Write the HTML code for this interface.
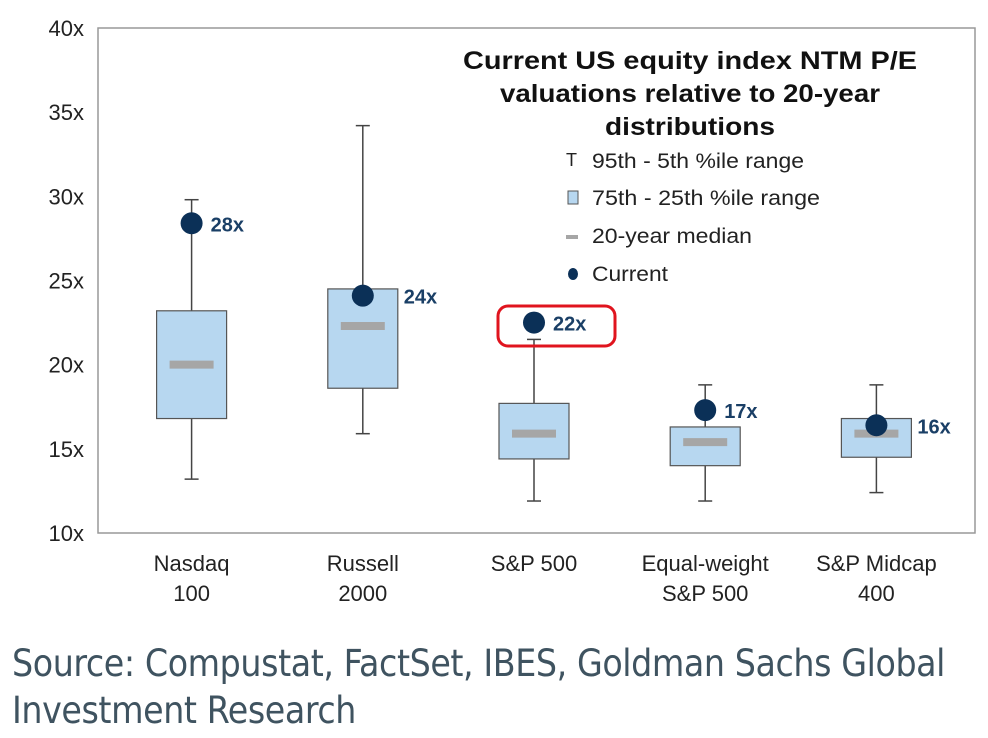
<!DOCTYPE html>
<html><head><meta charset="utf-8"><style>
body{margin:0;background:#fff;width:988px;height:738px;overflow:hidden;font-family:"Liberation Sans",sans-serif}
svg{position:absolute;left:0;top:0}
.src{position:absolute;left:12px;top:640px;font-size:37px;line-height:47px;color:#3f5360;font-family:"DejaVu Sans Condensed","Liberation Sans",sans-serif;letter-spacing:-0.4px}
</style></head><body>
<svg id="chart" width="988" height="738"></svg>
<div class="src">Source: Compustat, FactSet, IBES, Goldman Sachs Global<br>Investment Research</div>
<script>
const categories=[["Nasdaq","100"],["Russell","2000"],["S&P 500",""],["Equal-weight","S&P 500"],["S&P Midcap","400"]];
const p5=[13.2,15.9,11.9,11.9,12.4];
const p95=[29.8,34.2,21.5,18.8,18.8];
const p25=[16.8,18.6,14.4,14.0,14.5];
const p75=[23.2,24.5,17.7,16.3,16.8];
const medians=[20.0,22.3,15.9,15.4,15.9];
const current=[28.4,24.1,22.5,17.3,16.4];
const currentLabels=["28x","24x","22x","17x","16x"];
const yTicks=[10,15,20,25,30,35,40];
const NS="http://www.w3.org/2000/svg";
const svg=document.getElementById('chart');
const L=98,R=975,T=28,B=533;
const BL=106,BR=962;
const y=v=>B-(v-10)/30*(B-T);
const x=i=>BL+(i+0.5)*(BR-BL)/categories.length;
function mk(t,a,p){const e=document.createElementNS(NS,t);for(const k in a)e.setAttribute(k,a[k]);(p||svg).appendChild(e);return e;}
const frame=mk('rect',{x:L,y:T,width:R-L,height:B-T,fill:'none',stroke:'#999','stroke-width':1.5});


yTicks.forEach(v=>{const t=mk('text',{x:84,y:y(v)+8,'text-anchor':'end','font-size':22,fill:'#222'});t.textContent=v+'x';

});
categories.forEach((c,i)=>{
 const cx=x(i);
 const g=mk('g',{});
 
 
 mk('line',{x1:cx,x2:cx,y1:y(p5[i]),y2:y(p95[i]),stroke:'#444','stroke-width':1.5},g);
 mk('line',{x1:cx-7,x2:cx+7,y1:y(p5[i]),y2:y(p5[i]),stroke:'#444','stroke-width':1.5},g);
 mk('line',{x1:cx-7,x2:cx+7,y1:y(p95[i]),y2:y(p95[i]),stroke:'#444','stroke-width':1.5},g);
 mk('rect',{x:cx-35,y:y(p75[i]),width:70,height:y(p25[i])-y(p75[i]),fill:'#b7d7f0',stroke:'#555','stroke-width':1.2},g);
 mk('line',{x1:cx-22,x2:cx+22,y1:y(medians[i]),y2:y(medians[i]),stroke:'#a6a6a6','stroke-width':8},g);
 const d=mk('circle',{cx:cx,cy:y(current[i]),r:11,fill:'#0b3057'},g);
 
 
 const inside=current[i]<=p75[i]+0.3&&current[i]>=p25[i];
 const lt=mk('text',{x:cx+(inside?41:19),y:y(current[i])+8,'font-size':20,'font-weight':'bold',fill:'#1a3f66'},g);lt.textContent=currentLabels[i];
 
 
 c.forEach((s,j)=>{const t=mk('text',{x:cx,y:571+j*30,'text-anchor':'middle','font-size':22,fill:'#222'});t.textContent=s;
 
 });
});
const hl=mk('rect',{x:498,y:306,width:117,height:40,rx:10,fill:'none',stroke:'#e0141e','stroke-width':3});


["Current US equity index NTM P/E","valuations relative to 20-year","distributions"].forEach((s,j)=>{
 const t=mk('text',{x:690,y:69+j*33,'text-anchor':'middle','font-size':25,'font-weight':'bold',fill:'#111',textLength:[454,380,170][j],lengthAdjust:'spacingAndGlyphs'});t.textContent=s;
 
 });
const lg=[["95th - 5th %ile range",168,212],["75th - 25th %ile range",205,228],["20-year median",243,160],["Current",281,76]];
lg.forEach((l,j)=>{const t=mk('text',{x:592,y:l[1],'font-size':21,fill:'#222',textLength:l[2],lengthAdjust:'spacingAndGlyphs'});t.textContent=l[0];
 
 });
const ti=mk('text',{x:566,y:166,'font-size':18,fill:'#222'});ti.textContent='T';
mk('rect',{x:568,y:191,width:10,height:13,fill:'#b7d7f0',stroke:'#555'});
mk('rect',{x:566,y:235,width:12,height:4,fill:'#a6a6a6'});
mk('ellipse',{cx:573,cy:274,rx:5,ry:6,fill:'#0b3057'});
</script>
</body></html>
